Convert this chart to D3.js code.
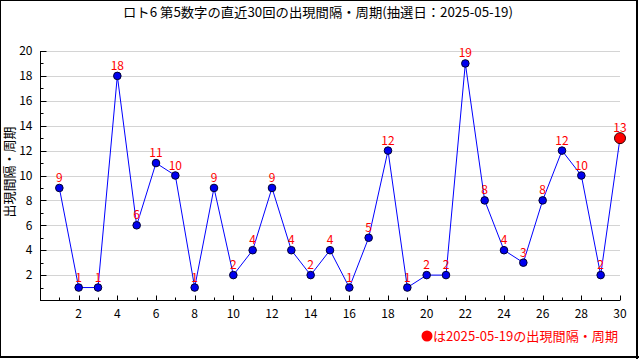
<!DOCTYPE html>
<html><head><meta charset="utf-8">
<script src="https://cdn.jsdelivr.net/npm/d3@7"></script>
<style>body{margin:0;background:#fff}svg{display:block}text{font-family:"Noto Sans CJK JP","DejaVu Sans",sans-serif}</style>
</head><body><svg id="c" width="640" height="360"></svg>
<script>
const draws = d3.range(1, 31);
const intervals = [9,1,1,18,6,11,10,1,9,2,4,9,4,2,4,1,5,12,1,2,2,19,8,4,3,8,12,10,2,13];
const xTickLabels = d3.range(2, 31, 2);
const yTickLabels = d3.range(2, 21, 2);
const title = "ロト6 第5数字の直近30回の出現間隔・周期(抽選日：2025-05-19)";
const yTitle = "出現間隔・周期";
const legendText = "は2025-05-19の出現間隔・周期";

const svg = d3.select("#c");
const x = d3.scaleLinear().domain([0, 30]).range([40, 620]);
const y = d3.scaleLinear().domain([0, 20]).range([300, 51]);

// frame
svg.append("rect").attr("x",0.5).attr("y",0.5).attr("width",637).attr("height",357)
  .attr("fill","none").attr("stroke","#000").attr("stroke-width",1);
svg.append("line").attr("x1",637).attr("x2",637).attr("y1",0).attr("y2",359).attr("stroke","#000").attr("stroke-width",2);
svg.append("line").attr("x1",0).attr("x2",639).attr("y1",357).attr("y2",357).attr("stroke","#000").attr("stroke-width",2);

// title
svg.append("text").attr("x",318).attr("y",17).attr("text-anchor","middle")
  .attr("font-size",13).attr("textLength",390).attr("lengthAdjust","spacingAndGlyphs").text(title);

// grid
svg.append("g").selectAll("line").data(yTickLabels).join("line")
  .attr("x1",x(0)).attr("x2",x(30)).attr("y1",d=>Math.round(y(d))+0.5).attr("y2",d=>Math.round(y(d))+0.5)
  .attr("stroke","#d4d4d4").attr("stroke-width",1);

// y axis
const yMinor = d3.range(1, 20, 2);
const ya = svg.append("g").attr("transform","translate(40.5,0)");
ya.append("line").attr("x1",0).attr("x2",0).attr("y1",y(20)).attr("y2",y(0)).attr("stroke","#000");
ya.selectAll("line.mj").data(yTickLabels).join("line").attr("class","mj")
  .attr("x1",0).attr("x2",6).attr("y1",d=>Math.round(y(d))+0.5).attr("y2",d=>Math.round(y(d))+0.5).attr("stroke","#000");
ya.selectAll("line.mn").data(yMinor).join("line").attr("class","mn")
  .attr("x1",0).attr("x2",3).attr("y1",d=>Math.round(y(d))+0.5).attr("y2",d=>Math.round(y(d))+0.5).attr("stroke","#000");
ya.selectAll("text").data(yTickLabels).join("text")
  .attr("x",-8).attr("y",d=>y(d)).attr("dy","0.35em").attr("text-anchor","end")
  .attr("font-size",12).text(d=>d);

// x axis
const xa = svg.append("g").attr("transform","translate(0,300.5)");
xa.append("line").attr("x1",x(0)).attr("x2",x(30)).attr("y1",0).attr("y2",0).attr("stroke","#000");
xa.selectAll("line.t").data(draws).join("line").attr("class","t")
  .attr("x1",d=>Math.round(x(d))+0.5).attr("x2",d=>Math.round(x(d))+0.5)
  .attr("y1",0).attr("y2",d=>d%2===0?-5:-3).attr("stroke","#000");
xa.selectAll("text").data(xTickLabels).join("text")
  .attr("x",d=>x(d)).attr("y",17).attr("text-anchor","middle").attr("font-size",12).text(d=>d);

// y title
svg.append("text").attr("transform","translate(14,172) rotate(-90)").attr("text-anchor","middle")
  .attr("font-size",13).text(yTitle);

// line
const pts = draws.map((d,i)=>[d, intervals[i]]);
svg.append("path").datum(pts)
  .attr("d", d3.line().x(d=>x(d[0])).y(d=>y(d[1])))
  .attr("fill","none").attr("stroke","#0000ff").attr("stroke-width",1);

// points
svg.append("g").selectAll("circle").data(pts).join("circle")
  .attr("cx",d=>x(d[0])).attr("cy",d=>y(d[1]))
  .attr("r",(d,i)=>i===pts.length-1?5.5:3.8)
  .attr("fill",(d,i)=>i===pts.length-1?"#ff0000":"#0000ee")
  .attr("stroke",(d,i)=>i===pts.length-1?"#330000":"#000033").attr("stroke-width",1);

// labels
svg.append("g").selectAll("text").data(pts).join("text")
  .attr("x",d=>x(d[0])).attr("y",d=>y(d[1])-6)
  .attr("text-anchor","middle").attr("font-size",12).attr("fill","#ff0000").text(d=>d[1]);

// legend
svg.append("circle").attr("cx",427).attr("cy",336).attr("r",5.5).attr("fill","#ff0000");
svg.append("text").attr("x",433).attr("y",341).attr("font-size",13).attr("fill","#ff0000")
  .attr("textLength",185).attr("lengthAdjust","spacingAndGlyphs").text(legendText);
</script></body></html>
